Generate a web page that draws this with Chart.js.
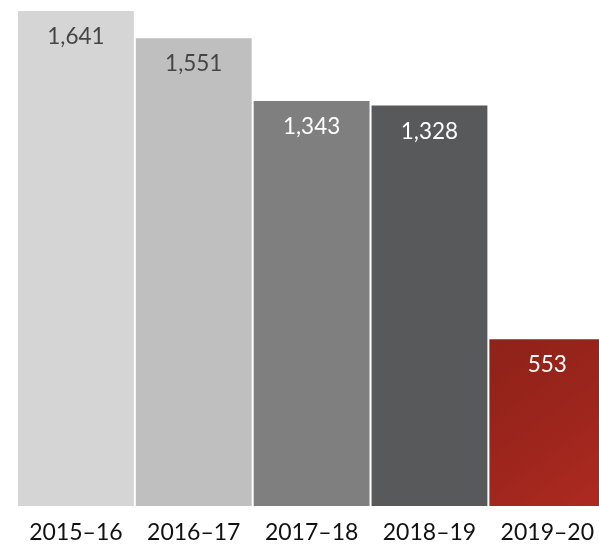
<!DOCTYPE html>
<html>
<head>
<meta charset="utf-8">
<script src="https://cdn.jsdelivr.net/npm/chart.js@4/dist/chart.umd.min.js"></script>
<style>
  html, body { margin: 0; padding: 0; background: #fff; overflow: hidden; width: 599px; height: 547px; }
  #wrap { width: 607px; height: 547px; position: relative; }
</style>
</head>
<body>
<div id="wrap"><canvas id="c"></canvas></div>
<script>
const categories = ['2015–16', '2016–17', '2017–18', '2018–19', '2019–20'];
const values = [1641, 1551, 1343, 1328, 553];
const barColors = ['#d5d5d5', '#bfbfbf', '#7f7f7f', '#58595b', 'red-gradient'];
const labelColors = ['#454545', '#454545', '#ffffff', '#ffffff', '#ffffff'];

function barFill(ctx) {
  const c = barColors[ctx.dataIndex];
  if (c !== 'red-gradient') return c;
  const chart = ctx.chart;
  const area = chart.chartArea;
  const xs = chart.scales.x, ys = chart.scales.y;
  if (!area || !xs || !ys) return '#a0261d';
  const cx = xs.getPixelForValue(ctx.dataIndex);
  const top = ys.getPixelForValue(values[ctx.dataIndex]);
  const x0 = cx - 60, x1 = cx + 60, y0 = top, y1 = area.bottom;
  if (![x0, x1, y0, y1].every(Number.isFinite)) return '#a0261d';
  const g = chart.ctx.createLinearGradient(x0, y0, x1, y1);
  g.addColorStop(0, '#8e2219');
  g.addColorStop(0.5, '#9c251c');
  g.addColorStop(1, '#ae2a21');
  return g;
}

const valueLabels = {
  id: 'valueLabels',
  afterDatasetsDraw(chart) {
    const ctx = chart.ctx;
    const meta = chart.getDatasetMeta(0);
    ctx.save();
    ctx.font = '22.5px Lato';
    ctx.textAlign = 'center';
    ctx.textBaseline = 'middle';
    meta.data.forEach((bar, i) => {
      ctx.fillStyle = labelColors[i];
      ctx.fillText(values[i].toLocaleString('en-US'), bar.x, bar.y + 26);
    });
    ctx.restore();
  }
};

new Chart(document.getElementById('c'), {
  type: 'bar',
  data: {
    labels: categories,
    datasets: [{
      data: values,
      backgroundColor: barFill,
      borderWidth: 0,
      barPercentage: 0.983,
      categoryPercentage: 1.0
    }]
  },
  options: {
    responsive: true,
    maintainAspectRatio: false,
    animation: false,
    layout: { padding: { left: 17, right: 0, top: 11, bottom: 0 } },
    plugins: { legend: { display: false }, tooltip: { enabled: false } },
    scales: {
      x: {
        grid: { display: false, drawTicks: false, tickLength: 0 },
        border: { display: false },
        ticks: { color: '#111', font: { family: 'Lato', size: 23 }, padding: 13, maxRotation: 0, autoSkip: false },
        afterFit(scale) { scale.height = 41; }
      },
      y: {
        display: false,
        min: 0,
        max: Math.max(...values)
      }
    }
  },
  plugins: [valueLabels]
});
</script>
</body>
</html>
